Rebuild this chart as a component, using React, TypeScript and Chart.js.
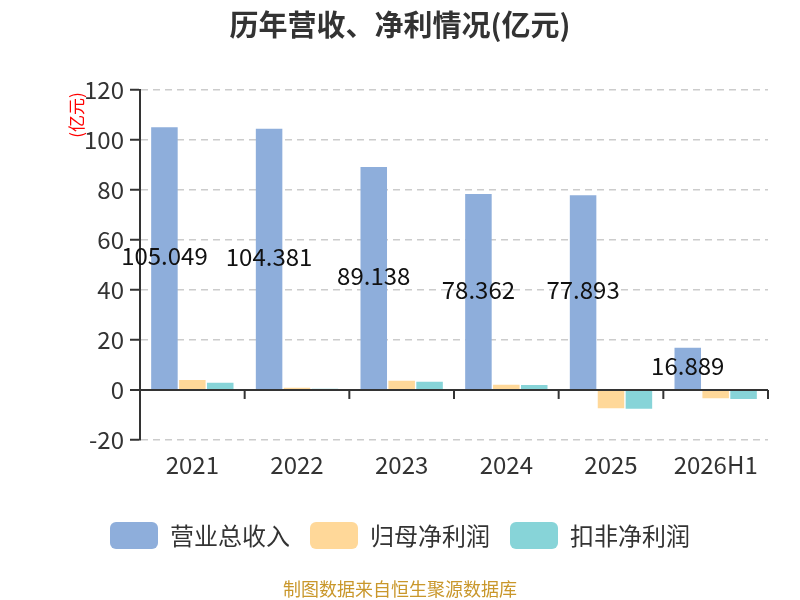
import React, { useEffect, useRef } from "react";
import { Chart, registerables } from "chart.js";

Chart.register(...registerables);

const categories = ["2021", "2022", "2023", "2024", "2025", "2026H1"];
const revenue = [105.049, 104.381, 89.138, 78.362, 77.893, 16.889];
const netProfit = [4.0, 0.9, 3.7, 2.1, -7.3, -3.3];
const deductedProfit = [2.9, 0.5, 3.3, 2.0, -7.5, -3.6];
const seriesNames = ["营业总收入", "归母净利润", "扣非净利润"];
const seriesColors = ["#8eaedb", "#ffd899", "#87d4d8"];
const yMin = -20;
const yMax = 120;
const yStep = 20;
const titleText = "历年营收、净利情况(亿元)";
const unitText = "(亿元)";
const sourceText = "制图数据来自恒生聚源数据库";

const FONT = "'Noto Sans CJK SC', 'Noto Sans', sans-serif";

const decorPlugin = {
  id: "decor",
  afterDatasetsDraw(chart: any) {
    const ctx = chart.ctx;
    const xs = chart.scales.x;
    const ys = chart.scales.y;
    const area = chart.chartArea;
    const y0 = ys.getPixelForValue(0);
    ctx.save();
    // zero line on top of bars
    ctx.strokeStyle = "#333";
    ctx.lineWidth = 2;
    ctx.beginPath();
    ctx.moveTo(area.left, y0);
    ctx.lineTo(area.right, y0);
    ctx.stroke();
    // category boundary ticks
    for (let i = 0; i < categories.length; i++) {
      const bx = xs.getPixelForValue(i + 0.5);
      ctx.beginPath();
      ctx.moveTo(bx, y0);
      ctx.lineTo(bx, y0 + 9);
      ctx.stroke();
    }
    // value labels
    const meta = chart.getDatasetMeta(0);
    ctx.font = `24px ${FONT}`;
    ctx.fillStyle = "#111";
    ctx.textAlign = "center";
    ctx.textBaseline = "middle";
    meta.data.forEach((bar: any, i: number) => {
      const p = bar.getProps(["x", "y", "base"], true);
      ctx.fillText(revenue[i].toFixed(3), p.x, (p.y + p.base) / 2 - 2);
    });
    ctx.restore();
  },
  afterDraw(chart: any) {
    const ctx = chart.ctx;
    ctx.save();
    // unit title
    ctx.translate(77, 115);
    ctx.rotate(-Math.PI / 2);
    ctx.font = `17px ${FONT}`;
    ctx.fillStyle = "#ff0000";
    ctx.textAlign = "center";
    ctx.textBaseline = "middle";
    ctx.fillText(unitText, 0, 0);
    ctx.restore();
    ctx.save();
    ctx.font = `18px ${FONT}`;
    ctx.fillStyle = "#c9972b";
    ctx.textAlign = "center";
    ctx.textBaseline = "middle";
    ctx.fillText(sourceText, 400, 589);
    ctx.restore();
  },
};

export default function App() {
  const ref = useRef<HTMLCanvasElement | null>(null);
  useEffect(() => {
    if (!ref.current) return;
    Chart.defaults.font.family = FONT;
    const chart = new Chart(ref.current, {
      type: "bar",
      data: {
        labels: categories,
        datasets: [revenue, netProfit, deductedProfit].map((d, i) => ({
          label: seriesNames[i],
          data: d,
          backgroundColor: seriesColors[i],
          borderWidth: 0,
          categoryPercentage: 0.8,
          barPercentage: 0.95,
        })),
      },
      options: {
        responsive: false,
        animation: false,
        layout: { padding: { left: 32, right: 32, top: 0, bottom: 41 } },
        plugins: {
          title: {
            display: true,
            text: titleText,
            color: "#333",
            font: { size: 29, weight: "bold", family: FONT },
            padding: { top: 8, bottom: 47 },
          },
          legend: {
            position: "bottom",
            labels: {
              font: { size: 24, family: FONT },
              color: "#333",
              boxWidth: 48,
              boxHeight: 27,
              padding: 20,
              useBorderRadius: true,
              borderRadius: 6,
            },
          },
          tooltip: { enabled: false },
        },
        scales: {
          x: {
            grid: { display: false, drawTicks: false },
            border: { display: false },
            ticks: { color: "#333", font: { size: 24, family: FONT }, padding: 10 },
            afterFit: (s: any) => {
              s.height = 62;
            },
          },
          y: {
            min: yMin,
            max: yMax,
            ticks: {
              stepSize: yStep,
              color: "#333",
              font: { size: 24, family: FONT },
              padding: 6,
            },
            grid: {
              color: (c: any) => (c.tick && c.tick.value === 0 ? "#333" : "#cccccc"),
              lineWidth: (c: any) => (c.tick && c.tick.value === 0 ? 2 : 1.5),
              tickColor: "#333",
              tickWidth: 2,
              tickLength: 10,
              tickBorderDash: [],
            },
            border: {
              display: true,
              color: "#333",
              width: 2,
              dash: (c: any) => (c.tick && c.tick.value !== 0 ? [7, 5] : []),
            },
            afterFit: (s: any) => {
              s.width = 108;
            },
          },
        },
      },
      plugins: [decorPlugin],
    } as any);
    return () => chart.destroy();
  }, []);
  return (
    <div style={{ position: "fixed", left: 0, top: 0, width: 800, height: 600, background: "#fff" }}>
      <canvas ref={ref} width={800} height={600} style={{ width: 800, height: 600 }} />
    </div>
  );
}
